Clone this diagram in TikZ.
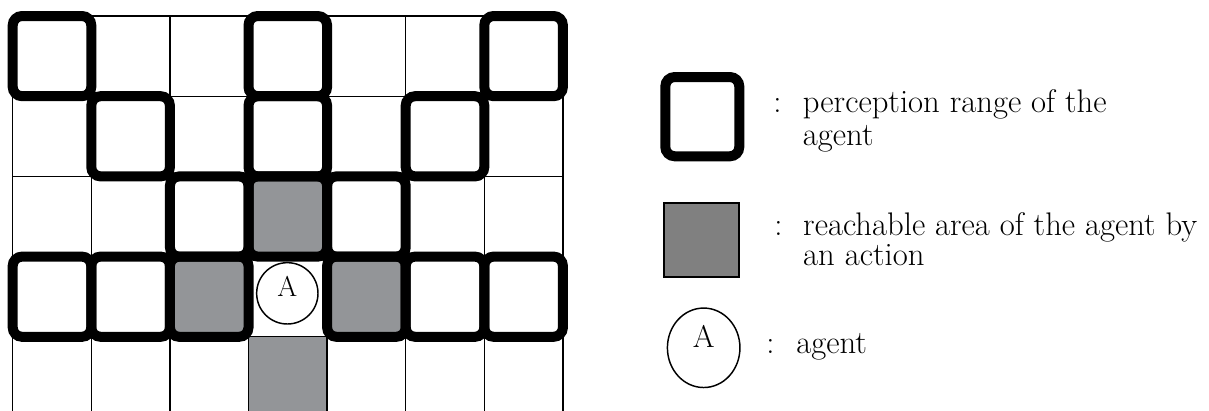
\documentclass[tikz,border=0pt]{standalone}
\usepackage{tikz}
\usetikzlibrary{shapes.geometric}
\definecolor{reachgray}{RGB}{147,149,152}
\definecolor{keygray}{RGB}{128,128,128}

\begin{document}
\begin{tikzpicture}[x=58.95pt, y=60.15pt,
  percept/.style={line width=7.5pt, rounded corners=7pt},
  keytext/.style={font=\fontsize{24.5}{24.75}\selectfont, inner sep=0pt}]
  \useasboundingbox (-0.1616,0.1995) rectangle (15.22,-4.925);
  % reachable cell below the agent
  \fill[reachgray] (3,-4) rectangle (4,-4.925);
  % grid
  \foreach \c in {0,...,7} \draw[line width=1pt] (\c,0) -- (\c,-4.925);
  \foreach \r in {0,...,4} \draw[line width=1pt] (0,-\r) -- (7,-\r);
  % perception range (fills first, then the thick borders)
  \foreach \c/\r/\col in {0/0/white,3/0/white,6/0/white,1/1/white,3/1/white,5/1/white,
      2/2/white,3/2/reachgray,4/2/white,0/3/white,1/3/white,2/3/reachgray,
      4/3/reachgray,5/3/white,6/3/white}
    \fill[\col, rounded corners=7pt] (\c,-\r) rectangle ++(1,-1);
  \foreach \c/\r in {0/0,3/0,6/0,1/1,3/1,5/1,2/2,3/2,4/2,0/3,1/3,2/3,4/3,5/3,6/3}
    \draw[percept] (\c,-\r) rectangle ++(1,-1);
  % agent
  \node[circle, draw, line width=1.1pt, fill=white, minimum size=46pt, inner sep=0pt,
    font=\fontsize{21.5}{24}\selectfont, text depth=10pt] (agent) at (3.494,-3.458) {A};

  % legend
  \draw[percept, fill=white] (8.303,-0.761) rectangle (9.244,-1.749);
  \draw[line width=1.5pt, fill=keygray] (8.286,-2.335) rectangle (9.236,-3.258);
  \node[ellipse, draw, line width=1.1pt, minimum width=54.4pt, minimum height=59.6pt,
    inner sep=0pt, font=\fontsize{23.5}{26}\selectfont, text depth=16.6pt] (agentkey) at (8.791,-4.137) {A};
  % base of a two-line node is its last line
  \node[keytext, anchor=base] (colonA) at (9.73,-1.197) {:};
  \node[keytext, anchor=base west, align=left] (rangetext) at (10.05,-1.6085) {perception range of the\\agent};
  \node[keytext, anchor=base] (colonB) at (9.741,-2.731) {:};
  \node[keytext, anchor=base west, align=left, font=\fontsize{24.5}{22.5}\selectfont] (reachtext) at (10.054,-3.105) {reachable area of the agent by\\an action};
  \node[keytext, anchor=base] (colonC) at (9.642,-4.202) {:};
  \node[keytext, anchor=base west] (agenttext) at (9.966,-4.202) {agent};
\end{tikzpicture}
\end{document}
